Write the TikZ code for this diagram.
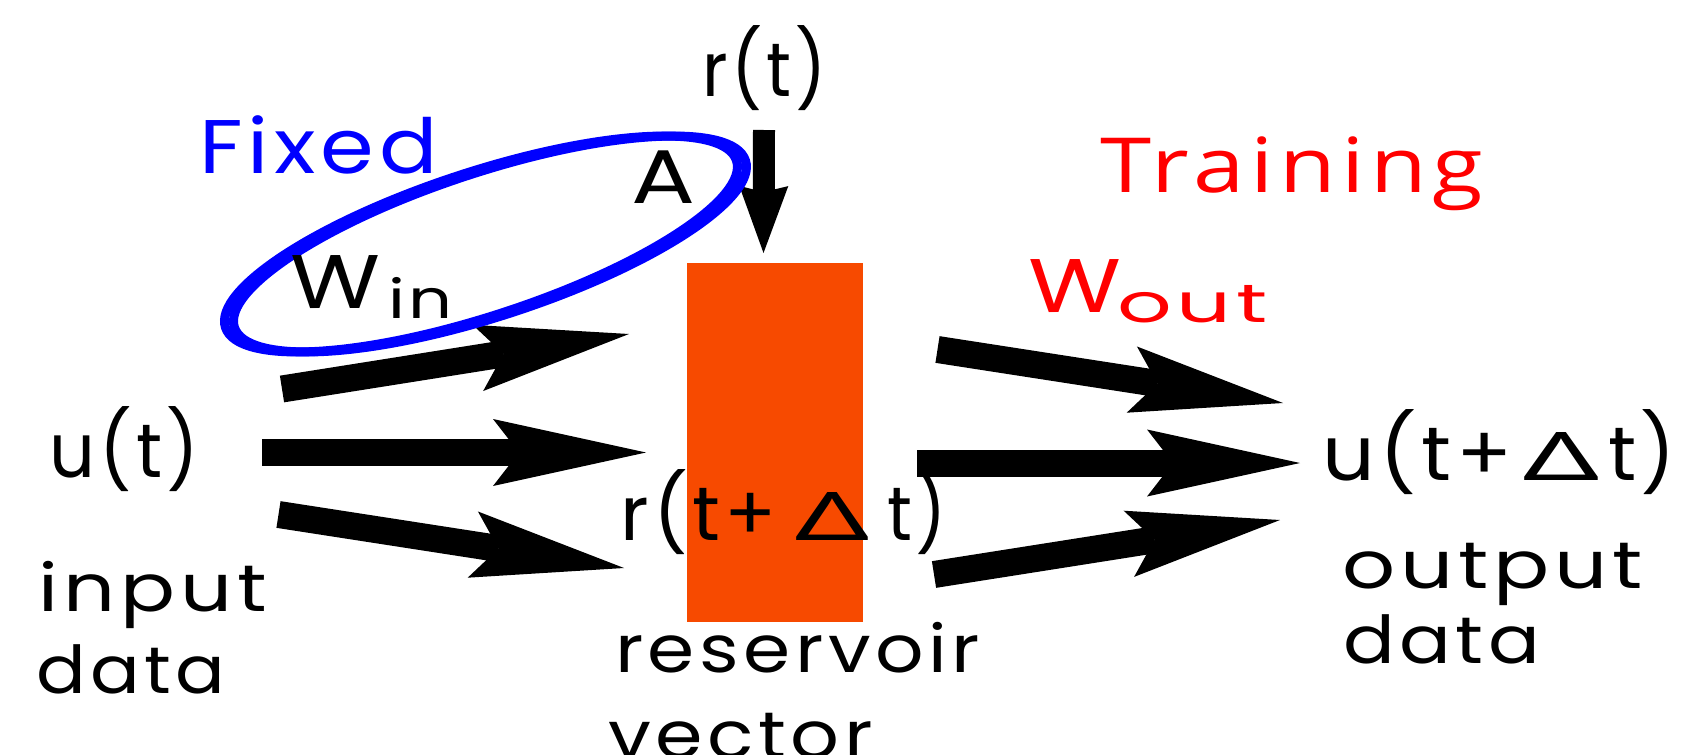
\documentclass[tikz,border=0pt]{standalone}
\usepackage{fontspec}
\usepackage{graphicx}
\setmainfont{Poppins}[LetterSpace=6]
\newfontfamily\trainfont{Open Sans}[LetterSpace=6]
\newfontfamily\grk{Noto Sans}
\usetikzlibrary{arrows.meta}
\definecolor{resorange}{RGB}{247,74,0}
\definecolor{fixblue}{RGB}{0,0,255}
\definecolor{trainred}{RGB}{255,0,0}
\newcommand\fitw[2]{\resizebox{#1}{\height}{#2}}
\newcommand\bigdelta[2]{\resizebox{#1}{#2}{\grk Δ}}
\begin{document}
\begin{tikzpicture}[x=0.5pt,y=-0.5pt,
  lbl/.style={anchor=base west, inner sep=0pt, outer sep=0pt},
  big/.style={font=\fontsize{38}{40}\selectfont},
  desc/.style={font=\fontsize{33}{36}\selectfont},
  subs/.style={font=\fontsize{27}{30}\selectfont},
  fatarrow/.style={line width=13.5pt, -{Stealth[length=76.5pt,width=33.5pt,inset=13pt,line width=0pt]}},
  downarrow/.style={line width=11pt, -{Stealth[length=33.5pt,width=24.5pt,inset=3pt,line width=0pt]}},
  loopline/.style={draw=fixblue, line width=4.5pt}
]
\useasboundingbox (0,0) rectangle (1682,755);

% reservoir block
\node[fill=resorange, inner sep=0pt, outer sep=0pt, minimum width=88pt, minimum height=179.5pt, anchor=north west] (res) at (686.5,263) {};

% input arrows
\coordinate (l1a) at (282,389);  \coordinate (l1b) at (629,334);
\coordinate (l2a) at (262,452.5);\coordinate (l2b) at (646,452.5);
\coordinate (l3a) at (278.5,514.5); \coordinate (l3b) at (624,568);
\draw[fatarrow] (l1a) -- (l1b);
\draw[fatarrow] (l2a) -- (l2b);
\draw[fatarrow] (l3a) -- (l3b);

% output arrows
\coordinate (r1a) at (937.5,349.5); \coordinate (r1b) at (1283,403);
\coordinate (r2a) at (917,463);     \coordinate (r2b) at (1300,463);
\coordinate (r3a) at (934,574.5);   \coordinate (r3b) at (1280,520);
\draw[fatarrow] (r1a) -- (r1b);
\draw[fatarrow] (r2a) -- (r2b);
\draw[fatarrow] (r3a) -- (r3b);

% feedback arrow r(t)
\coordinate (da) at (764,130); \coordinate (db) at (763.5,253);
\draw[downarrow] (da) -- (db);

% Fixed loop
\coordinate (lc1) at (481,244); \coordinate (lc2) at (490,244);
\draw[loopline, rotate around={18.1:(lc1)}] (lc1) ellipse [x radius=134.4pt, y radius=36pt];
\draw[loopline, rotate around={18.1:(lc2)}] (lc2) ellipse [x radius=134.4pt, y radius=36pt];

% labels
\node[lbl,big] (rt) at (702,97) {\fitw{62.5pt}{r(t)}};
\node[lbl,big,text=fixblue] (fixed) at (199,173) {\fitw{119.5pt}{Fixed}};
\node[lbl,big] (A) at (631,203) {\fitw{32pt}{A}};
\node[lbl,big] (W1) at (290,308) {\fitw{45pt}{W}};
\node[lbl,subs] (in) at (388,318) {\fitw{32.5pt}{in}};
\node[lbl,big,text=trainred] (train) at (1100,192) {\trainfont\fitw{191.5pt}{Training}};
\node[lbl,big,text=trainred] (W2) at (1028,312) {\fitw{46.5pt}{W}};
\node[lbl,subs,text=trainred] (out) at (1117,322) {\fitw{75.5pt}{out}};
\node[lbl,big] (ut) at (49,477) {\fitw{75pt}{u(t)}};
\node[lbl,desc] (input) at (39,611) {\fitw{114pt}{input}};
\node[lbl,desc] (data1) at (36,693) {\fitw{94.5pt}{data}};
\node[lbl,big] (rtdt) at (620,540) {\fitw{78.5pt}{r(t+}\kern9pt\bigdelta{37pt}{24pt}\kern9pt\fitw{30pt}{t)}};
\node[lbl,desc] (resv) at (615,672) {\fitw{182.5pt}{reservoir}};
\node[lbl,desc] (vec) at (608,758) {\fitw{132.5pt}{vector}};
\node[lbl,big] (utdt) at (1322,480) {\fitw{95.5pt}{u(t+}\kern5pt\bigdelta{38pt}{24pt}\kern4.5pt\fitw{34pt}{t)}};
\node[lbl,desc] (outp) at (1342,588) {\fitw{150.5pt}{output}};
\node[lbl,desc] (data2) at (1343,663) {\fitw{98.5pt}{data}};
\end{tikzpicture}
\end{document}
